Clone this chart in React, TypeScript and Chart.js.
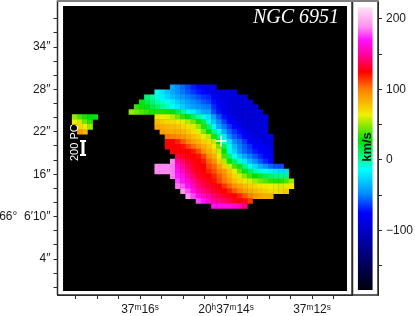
import React, { useEffect, useRef } from "react";
import Chart from "chart.js/auto";

// Tick positions and labels
const raTicks = [17.5, 17, 16.5, 16, 15.5, 15, 14.5, 14, 13.5, 13, 12.5, 12, 11.5];
const raLabels: Record<number, string> = { 16: "37ᵐ16ˢ", 14: "20ʰ37ᵐ14ˢ", 12: "37ᵐ12ˢ" };
const decTicks = [38, 36, 34, 32, 30, 28, 26, 24, 22, 20, 18, 16, 14, 12, 10, 8, 6, 4, 2, 0];
const decLabels: Record<number, string> = { 34: "34″", 28: "28″", 22: "22″", 16: "16″", 10: "66°  6′10″", 4: "4″" };
const barTicks = [-150, -100, -50, 0, 50, 100, 150, 200];
const barLabels: Record<number, string> = { 200: "200", 100: "100", 0: "0", [-100]: "−100" };

// Colour table: velocity (km/s) -> colour
const colorValues = [-184, -132, -75, -47, -14, 0, 28, 64, 100, 125, 147, 170, 189, 216];
const colorStops = [
  [0, 0, 12], [0, 0, 128], [0, 0, 255], [0, 144, 255], [0, 255, 255], [0, 255, 160], [0, 224, 0],
  [240, 240, 0], [255, 128, 0], [255, 0, 0], [255, 0, 144], [255, 16, 255], [255, 144, 240], [255, 224, 245],
];
const colorbarRange: [number, number] = [-184, 216];

// Grid of the velocity map
const raOrigin = 16.8;
const raStep = 0.12;
const rowDec = [28.3, 27.6, 26.9, 26.2, 25.5, 24.8, 24.1, 23.4, 22.7, 22, 21.3, 20.6, 19.9, 19.2, 18.5, 17.8, 17.1, 16.4, 15.7, 15, 14.3, 13.6, 12.9, 12.2, 11.5,
  24.1, 23.4, 22.7, 22];
const rowFirst = [13, 10, 8, 7, 6, 5, 10, 10, 10, 11, 12, 12, 12, 13, 14, 13, 10, 10, 13, 14, 14, 15, 16, 18, 21,
  -6, -6, -5, -5];
const rowValues = [
  [-40, -48, -55, -62, -70, -76, -80, -83, -85],
  [-12, -22, -32, -40, -46, -52, -58, -64, -70, -74, -80, -85, -88, -90, -90, -90],
  [8, 0, -10, -18, -26, -33, -40, -45, -50, -55, -60, -65, -68, -78, -84, -88, -90, -92, -92, -92],
  [25, 15, 8, 0, -6, -12, -20, -28, -35, -42, -48, -52, -58, -62, -72, -80, -86, -90, -92, -92, -92, -92],
  [35, 30, 25, 16, 10, 4, -4, -12, -20, -28, -35, -42, -46, -50, -52, -66, -76, -84, -90, -92, -92, -92, -92, -92],
  [50, 45, 40, 36, 32, 32, 32, 30, 25, 15, 3, -10, -20, -30, -40, -42, -60, -72, -82, -88, -92, -92, -92, -92, -92, -92],
  [68, 65, 62, 55, 45, 35, 25, 12, 0, -10, -22, -42, -58, -72, -82, -88, -92, -92, -92, -92, -92, -90],
  [80, 76, 72, 70, 66, 62, 55, 45, 30, 15, -10, -30, -48, -62, -76, -84, -90, -92, -92, -92, -92, -90],
  [88, 85, 82, 80, 78, 72, 68, 60, 50, 32, 10, -16, -38, -52, -64, -76, -84, -90, -92, -92, -92, -90],
  [90, 88, 86, 85, 82, 76, 70, 62, 46, 28, 5, -12, -38, -55, -65, -74, -80, -87, -90, -92, -92],
  [102, 100, 96, 92, 86, 80, 75, 62, 55, 32, 5, -20, -47, -58, -66, -75, -82, -88, -90, -90, -88],
  [125, 125, 118, 108, 98, 90, 84, 75, 70, 55, 28, -5, -25, -47, -55, -65, -75, -82, -88, -90, -90],
  [125, 125, 125, 122, 112, 104, 95, 86, 78, 65, 45, 12, -10, -35, -50, -58, -66, -75, -80, -85, -88],
  [125, 125, 125, 125, 120, 110, 95, 85, 75, 58, 28, -10, -28, -47, -55, -62, -70, -75, -80, -85],
  [135, 130, 126, 125, 122, 112, 95, 85, 66, 38, 10, -12, -28, -40, -50, -58, -68, -75, -80],
  [188, 150, 140, 132, 128, 125, 120, 105, 95, 75, 55, 30, 12, -8, -20, -35, -47, -58, -68, -75],
  [188, 188, 188, 186, 160, 148, 138, 130, 126, 125, 112, 105, 90, 75, 58, 38, 22, 5, -12, -25, -38, -47, -55, -60, -60],
  [188, 188, 188, 186, 168, 155, 145, 132, 128, 125, 118, 110, 100, 92, 78, 62, 42, 25, 12, 0, -8, -15, -18, -22, -25, -25],
  [186, 172, 165, 152, 142, 132, 128, 125, 118, 108, 98, 85, 72, 60, 48, 36, 28, 20, 14, 10, 6, 5, 5],
  [178, 170, 160, 148, 138, 132, 128, 122, 112, 102, 92, 80, 72, 66, 60, 52, 45, 40, 35, 33, 33, 40, 50],
  [185, 180, 168, 155, 145, 136, 132, 128, 125, 115, 105, 95, 88, 80, 75, 72, 68, 66, 64, 62, 60, 62, 68],
  [190, 180, 165, 152, 145, 138, 132, 128, 125, 118, 108, 100, 92, 86, 82, 78, 74, 70, 70, 72, 76],
  [190, 178, 165, 155, 150, 142, 136, 130, 128, 125, 118, 108, 100, 92, 88, 85, 85],
  [178, 170, 160, 150, 145, 142, 135, 130, 126, 122, 115],
  [168, 165, 165, 165, 160, 155, 145],
  [50, 40, 32, 28, 25],
  [65, 58, 45, 35],
  [72, 65, 50],
  [90, 82],
];

// Marks on the map
const nucleus = [{ x: 14.116, y: 20.7 }];
const scaleBarEnds = [{ x: 17.326, y: 20.7 }, { x: 17.326, y: 18.72 }];
const imageRa: [number, number] = [17.79, 11.186];
const imageDec: [number, number] = [39.8, -0.527];

const labelFont = '"Liberation Sans", "DejaVu Sans", sans-serif';
const axisInk = "#2a2a2a";
const mapOffset = 10; // the map canvas starts above the page: room for Chart.js' point overflow padding

function velocityColor(v: number) {
  let i = 0;
  while (i < colorValues.length - 2 && v > colorValues[i + 1]) i++;
  const t = Math.max(0, Math.min(1, (v - colorValues[i]) / (colorValues[i + 1] - colorValues[i])));
  const a = colorStops[i];
  const b = colorStops[i + 1];
  const c = a.map((n, k) => Math.round(n + (b[k] - n) * t));
  return `rgb(${c[0]},${c[1]},${c[2]})`;
}

function noPadding(s: any) {
  s.paddingTop = 0;
  s.paddingBottom = 0;
  s.paddingLeft = 0;
  s.paddingRight = 0;
}

const framePlugin = {
  id: "frame",
  afterDraw(chart: any) {
    const { ctx, chartArea: a } = chart;
    ctx.save();
    ctx.strokeStyle = axisInk;
    ctx.lineWidth = 1.5;
    ctx.beginPath();
    ctx.moveTo(a.left, a.bottom);
    ctx.lineTo(a.right, a.bottom);
    ctx.moveTo(a.right, a.bottom);
    ctx.lineTo(a.right, a.top);
    ctx.moveTo(a.left, a.bottom);
    ctx.lineTo(a.left, a.top);
    ctx.stroke();
    ctx.strokeStyle = "#808080";
    ctx.lineWidth = 2;
    ctx.beginPath();
    ctx.moveTo(a.left - 0.75, a.top);
    ctx.lineTo(a.right + 0.75, a.top);
    ctx.stroke();
    ctx.restore();
  },
};

const mapPlugin = {
  id: "mapDecor",
  beforeDatasetsDraw(chart: any) {
    const { ctx, scales } = chart;
    const x0 = scales.x.getPixelForValue(imageRa[0]);
    const x1 = scales.x.getPixelForValue(imageRa[1]);
    const y0 = scales.y.getPixelForValue(imageDec[0]);
    const y1 = scales.y.getPixelForValue(imageDec[1]);
    ctx.save();
    ctx.fillStyle = "#000";
    ctx.fillRect(x0, y0, x1 - x0, y1 - y0);
    ctx.restore();
  },
  afterDatasetsDraw(chart: any) {
    const { ctx } = chart;
    ctx.save();
    ctx.fillStyle = "#fff";
    ctx.font = 'italic 20px "Liberation Serif", serif';
    ctx.textAlign = "left";
    ctx.textBaseline = "alphabetic";
    ctx.fillText("NGC 6951", 253, 23 + mapOffset);
    ctx.translate(78, 161 + mapOffset);
    ctx.rotate(-Math.PI / 2);
    ctx.font = `11px ${labelFont}`;
    ctx.fillText("200 PC", 0, 0);
    ctx.restore();
  },
};

const barPlugin = {
  id: "barDecor",
  afterDatasetsDraw(chart: any) {
    const { ctx } = chart;
    ctx.save();
    ctx.translate(18.5, 147);
    ctx.rotate(-Math.PI / 2);
    ctx.fillStyle = "#111";
    ctx.font = `bold 13px ${labelFont}`;
    ctx.textAlign = "center";
    ctx.textBaseline = "alphabetic";
    ctx.fillText("km/s", 0, 0);
    ctx.restore();
  },
};

export default function App() {
  const mapRef = useRef<HTMLCanvasElement>(null);
  const barRef = useRef<HTMLCanvasElement>(null);

  useEffect(() => {
    document.body.style.margin = "0";
    document.body.style.overflow = "hidden";

    const cells: { x: number; y: number; v: number }[] = [];
    rowValues.forEach((vals, j) => {
      vals.forEach((v, i) => {
        cells.push({ x: raOrigin - raStep * (rowFirst[j] + i), y: rowDec[j], v });
      });
    });

    const map = new Chart(mapRef.current!, {
      type: "scatter",
      data: {
        datasets: [
          {
            label: "nucleus",
            data: nucleus,
            pointStyle: "cross",
            pointRadius: 5.5,
            pointBorderColor: "#fff",
            pointBorderWidth: 1.6,
          } as any,
          {
            label: "200 pc",
            data: scaleBarEnds,
            showLine: true,
            borderColor: "#fff",
            borderWidth: 3,
            pointStyle: "line",
            pointRadius: 3,
            pointBorderColor: "#fff",
            pointBorderWidth: 2,
          } as any,
          {
            label: "velocity",
            data: cells,
            pointStyle: "rect",
            pointRadius: 3.9,
            pointBorderWidth: 0,
            pointBackgroundColor: cells.map((c) => velocityColor(c.v)),
          } as any,
        ],
      },
      options: {
        responsive: false,
        animation: false,
        layout: { padding: { left: 0, right: mapOffset, top: mapOffset + 1, bottom: 0 } },
        plugins: { legend: { display: false }, tooltip: { enabled: false } },
        scales: {
          x: {
            type: "linear",
            reverse: true,
            min: 11.07,
            max: 17.919,
            afterFit: (s: any) => { s.height = 21; noPadding(s); },
            afterBuildTicks: (s: any) => { s.ticks = raTicks.map((value) => ({ value })); },
            border: { color: axisInk, width: 1 },
            grid: { drawOnChartArea: false, tickLength: 4, tickColor: axisInk, tickWidth: 1 },
            ticks: {
              autoSkip: false,
              maxRotation: 0,
              padding: 3,
              color: "#1a1a1a",
              font: { family: labelFont, size: 12 },
              callback: (v: any) => raLabels[v] ?? "",
            },
          },
          y: {
            type: "linear",
            min: -1.09,
            max: 40.51,
            afterFit: (s: any) => { s.width = 57.5; noPadding(s); },
            afterBuildTicks: (s: any) => { s.ticks = decTicks.map((value) => ({ value })); },
            border: { color: axisInk, width: 1 },
            grid: { drawOnChartArea: false, tickLength: 4, tickColor: axisInk, tickWidth: 1 },
            ticks: {
              autoSkip: false,
              padding: 3,
              color: "#1a1a1a",
              font: { family: labelFont, size: 12 },
              callback: (v: any) => decLabels[v] ?? "",
            },
          },
        },
      },
      plugins: [mapPlugin, framePlugin],
    } as any);

    const bar = new Chart(barRef.current!, {
      type: "bar",
      data: {
        labels: ["km/s"],
        datasets: [
          {
            label: "colour scale",
            data: [colorbarRange],
            barThickness: 14,
            borderSkipped: false,
            backgroundColor: (c: any) => {
              const { chart } = c;
              const s = chart.scales.y;
              if (!s || !chart.chartArea) return "#000";
              const y0 = s.getPixelForValue(colorbarRange[0]);
              const y1 = s.getPixelForValue(colorbarRange[1]);
              if (!Number.isFinite(y0) || !Number.isFinite(y1)) return "#000";
              const g = chart.ctx.createLinearGradient(0, y0, 0, y1);
              colorValues.forEach((v) => {
                g.addColorStop((v - colorbarRange[0]) / (colorbarRange[1] - colorbarRange[0]), velocityColor(v));
              });
              return g;
            },
          } as any,
        ],
      },
      options: {
        responsive: false,
        animation: false,
        layout: { padding: { left: 0.5, right: 0, top: 1, bottom: 21 } },
        plugins: { legend: { display: false }, tooltip: { enabled: false } },
        scales: {
          x: { display: false },
          y: {
            position: "right",
            type: "linear",
            min: -191.5,
            max: 225.5,
            afterFit: (s: any) => { s.width = 37; noPadding(s); },
            afterBuildTicks: (s: any) => { s.ticks = barTicks.map((value) => ({ value })); },
            border: { color: axisInk, width: 1 },
            grid: { drawOnChartArea: false, tickLength: 4, tickColor: axisInk, tickWidth: 1 },
            ticks: {
              autoSkip: false,
              padding: 4,
              color: "#1a1a1a",
              font: { family: labelFont, size: 12 },
              callback: (v: any) => barLabels[v] ?? "",
            },
          },
        },
      },
      plugins: [barPlugin, framePlugin],
    } as any);

    return () => {
      map.destroy();
      bar.destroy();
    };
  }, []);

  return (
    <div style={{ position: "relative", width: 415, height: 316, overflow: "hidden", background: "#fff" }}>
      <canvas ref={mapRef} width={362} height={326} style={{ position: "absolute", left: 0, top: -mapOffset }} />
      <canvas ref={barRef} width={63} height={316} style={{ position: "absolute", left: 352, top: 0 }} />
    </div>
  );
}
